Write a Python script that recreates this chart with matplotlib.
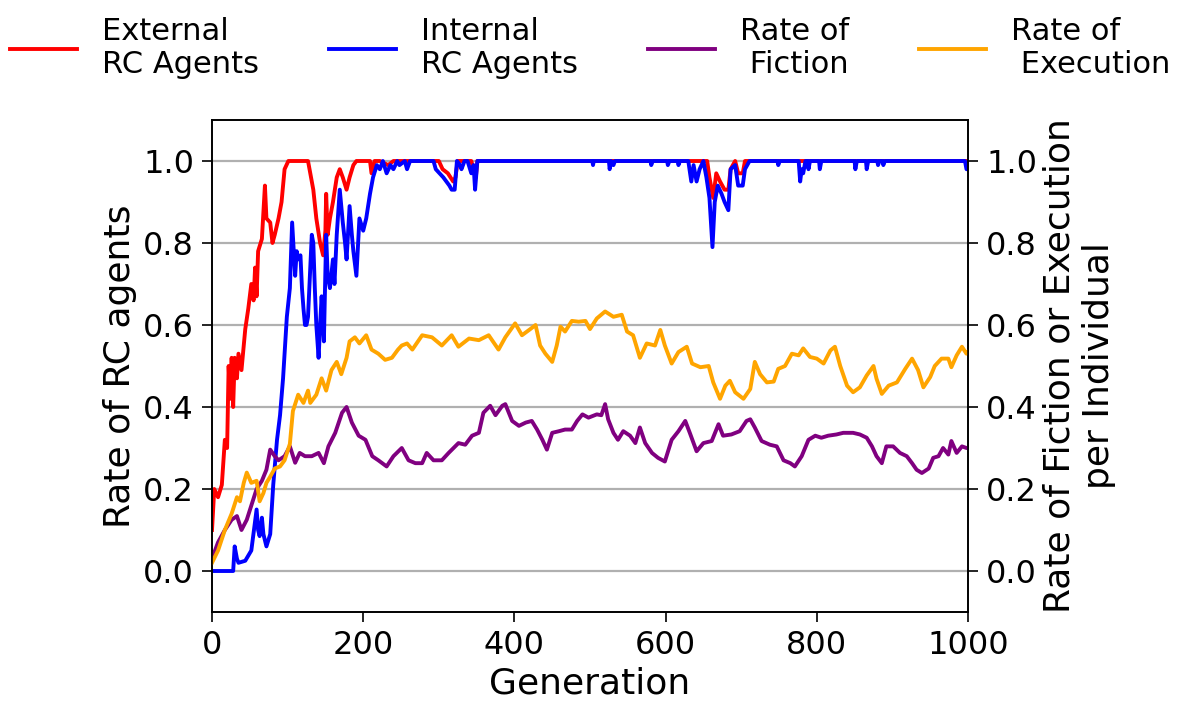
import matplotlib
matplotlib.use("Agg")
import matplotlib.pyplot as plt

# External RC agents (left axis)
ext_gen = [0, 3, 8, 13, 17, 20, 22, 24, 26, 28, 30, 33, 35, 39, 44, 48, 52, 55, 57, 59,
           61, 66, 70, 72, 77, 80, 83, 88, 92, 96, 101, 127, 134, 138, 143, 147, 150, 151,
           153, 156, 160, 165, 169, 173, 178, 182, 187, 191, 209, 211, 215, 222, 233, 240,
           300, 305, 312, 319, 322, 325, 343, 346, 349, 351, 655, 658, 663, 667, 672, 678,
           683, 686, 692, 696, 702, 705, 1000]
ext_val = [0.10, 0.20, 0.18, 0.21, 0.32, 0.30, 0.50, 0.42, 0.52, 0.40, 0.52, 0.47, 0.53,
           0.49, 0.59, 0.64, 0.70, 0.66, 0.74, 0.67, 0.78, 0.81, 0.94, 0.86, 0.85, 0.80,
           0.82, 0.86, 0.90, 0.98, 1.0, 1.0, 0.93, 0.86, 0.80, 0.77, 0.83, 0.92, 0.82, 0.86,
           0.90, 0.96, 0.98, 0.96, 0.93, 0.96, 0.99, 1.0, 1.0, 0.97, 1.0, 1.0, 0.99, 1.0,
           1.0, 0.98, 0.97, 0.95, 0.96, 1.0, 1.0, 0.98, 0.96, 1.0, 1.0, 0.96, 0.91, 0.97,
           0.95, 0.93, 0.93, 0.98, 1.0, 0.97, 0.97, 1.0, 1.0]

# Internal RC agents (left axis)
int_gen = [0, 28, 30, 33, 35, 44, 52, 57, 59, 61, 63, 66, 68, 72, 77, 81, 86, 90, 94, 99,
           103, 106, 110, 112, 114, 117, 119, 121, 123, 125, 127, 130, 132, 134, 136, 138,
           141, 143, 145, 148, 151, 153, 156, 160, 162, 165, 169, 173, 176, 178, 182, 185,
           187, 191, 195, 200, 204, 209, 213, 218, 222, 226, 231, 236, 240, 245, 248, 255,
           258, 262, 293, 296, 301, 306, 310, 314, 317, 321, 324, 328, 330, 334, 338, 343,
           346, 348, 351, 503, 504, 505, 525, 526, 528, 531, 533, 580, 581, 583, 602, 603,
           605, 616, 617, 619, 630, 634, 637, 639, 641, 645, 650, 654, 658, 662, 665, 669,
           674, 678, 683, 686, 692, 696, 702, 705, 711, 748, 749, 751, 776, 778, 780, 782,
           785, 788, 789, 791, 803, 804, 806, 850, 851, 853, 865, 866, 868, 880, 881, 883,
           887, 888, 890, 996, 998, 1000]
int_val = [0.0, 0.0, 0.06, 0.03, 0.02, 0.025, 0.05, 0.12, 0.15, 0.10, 0.085, 0.13, 0.09,
           0.06, 0.09, 0.21, 0.32, 0.38, 0.47, 0.62, 0.69, 0.85, 0.72, 0.78, 0.76, 0.77,
           0.69, 0.64, 0.60, 0.60, 0.62, 0.74, 0.82, 0.80, 0.69, 0.60, 0.52, 0.60, 0.67,
           0.56, 0.82, 0.72, 0.69, 0.76, 0.70, 0.82, 0.93, 0.85, 0.80, 0.76, 0.89, 0.82,
           0.78, 0.72, 0.86, 0.83, 0.86, 0.92, 0.96, 0.99, 0.98, 1.0, 0.97, 0.99, 0.98, 1.0,
           0.99, 1.0, 0.98, 1.0, 1.0, 0.98, 0.97, 0.96, 0.95, 0.94, 0.93, 0.93, 1.0, 0.99,
           0.98, 1.0, 1.0, 0.97, 0.99, 0.93, 1.0, 1.0, 0.99, 1.0, 1.0, 0.98, 1.0, 0.99, 1.0,
           1.0, 0.99, 1.0, 1.0, 0.99, 1.0, 1.0, 0.99, 1.0, 1.0, 0.95, 0.99, 0.97, 0.95,
           0.98, 1.0, 0.96, 0.91, 0.79, 0.90, 0.94, 0.92, 0.90, 0.88, 0.98, 0.99, 0.94,
           0.94, 0.98, 1.0, 1.0, 0.99, 1.0, 1.0, 0.95, 0.98, 0.97, 1.0, 1.0, 0.98, 1.0, 1.0,
           0.98, 1.0, 1.0, 0.98, 1.0, 1.0, 0.98, 1.0, 1.0, 0.99, 1.0, 1.0, 0.99, 1.0, 1.0,
           0.98, 0.98]

# Rate of execution per individual (right axis)
exe_gen = [0, 8, 17, 26, 33, 37, 42, 46, 52, 59, 63, 68, 72, 77, 83, 90, 96, 103, 107, 114,
           121, 127, 130, 138, 145, 151, 158, 165, 171, 178, 182, 189, 195, 204, 211, 220,
           229, 238, 246, 251, 258, 265, 278, 291, 304, 317, 326, 340, 353, 366, 379, 388,
           401, 410, 421, 428, 434, 441, 450, 456, 461, 467, 476, 485, 494, 500, 509, 520,
           531, 542, 549, 557, 566, 575, 586, 593, 599, 608, 617, 628, 635, 646, 657, 663,
           672, 679, 685, 692, 703, 712, 718, 725, 734, 743, 749, 758, 767, 776, 782, 791,
           800, 809, 818, 824, 831, 840, 848, 857, 866, 875, 879, 886, 895, 906, 917, 926,
           934, 941, 950, 956, 965, 974, 978, 985, 992, 998, 1000]
exe_val = [0.02, 0.05, 0.10, 0.14, 0.18, 0.17, 0.215, 0.24, 0.215, 0.22, 0.17, 0.19, 0.215,
           0.23, 0.25, 0.255, 0.27, 0.31, 0.39, 0.43, 0.41, 0.44, 0.41, 0.43, 0.47, 0.44,
           0.49, 0.51, 0.48, 0.52, 0.56, 0.57, 0.555, 0.575, 0.54, 0.53, 0.515, 0.52, 0.54,
           0.55, 0.555, 0.54, 0.575, 0.57, 0.55, 0.575, 0.547, 0.567, 0.563, 0.575, 0.54,
           0.57, 0.604, 0.575, 0.59, 0.60, 0.55, 0.53, 0.51, 0.55, 0.596, 0.584, 0.61,
           0.608, 0.61, 0.59, 0.616, 0.633, 0.62, 0.625, 0.584, 0.575, 0.52, 0.555, 0.55,
           0.588, 0.55, 0.506, 0.534, 0.547, 0.506, 0.497, 0.50, 0.46, 0.42, 0.452, 0.464,
           0.436, 0.42, 0.444, 0.51, 0.48, 0.46, 0.462, 0.493, 0.50, 0.53, 0.526, 0.543,
           0.522, 0.518, 0.506, 0.538, 0.547, 0.50, 0.452, 0.436, 0.448, 0.477, 0.50, 0.469,
           0.432, 0.452, 0.46, 0.493, 0.518, 0.49, 0.448, 0.473, 0.50, 0.518, 0.518, 0.497,
           0.526, 0.547, 0.53, 0.535]

# Rate of fiction per individual (right axis)
fic_gen = [0, 8, 17, 26, 33, 39, 46, 52, 59, 66, 72, 77, 83, 88, 96, 103, 110, 116, 123,
           132, 141, 148, 154, 163, 172, 178, 185, 194, 203, 212, 220, 231, 240, 251, 260,
           269, 278, 284, 293, 304, 313, 326, 335, 344, 353, 359, 368, 375, 384, 388, 397,
           406, 415, 423, 430, 437, 443, 450, 459, 467, 476, 483, 490, 498, 509, 515, 520,
           524, 531, 537, 544, 553, 560, 566, 573, 582, 590, 599, 608, 617, 626, 632, 641,
           650, 661, 670, 676, 687, 698, 707, 712, 718, 727, 738, 747, 756, 765, 771, 780,
           789, 798, 806, 815, 826, 835, 848, 857, 866, 873, 879, 886, 892, 901, 910, 919,
           926, 932, 939, 948, 954, 961, 967, 974, 978, 985, 992, 998, 1000]
fic_val = [0.03, 0.07, 0.10, 0.125, 0.134, 0.10, 0.125, 0.16, 0.20, 0.22, 0.247, 0.296,
           0.28, 0.27, 0.28, 0.304, 0.264, 0.288, 0.28, 0.28, 0.288, 0.263, 0.304, 0.337,
           0.386, 0.40, 0.362, 0.33, 0.32, 0.28, 0.27, 0.255, 0.28, 0.30, 0.27, 0.263,
           0.263, 0.288, 0.27, 0.27, 0.288, 0.312, 0.308, 0.33, 0.337, 0.386, 0.403, 0.38,
           0.403, 0.407, 0.366, 0.354, 0.362, 0.366, 0.345, 0.32, 0.296, 0.337, 0.341,
           0.345, 0.345, 0.366, 0.382, 0.374, 0.382, 0.38, 0.407, 0.37, 0.337, 0.32, 0.341,
           0.33, 0.312, 0.35, 0.312, 0.288, 0.276, 0.267, 0.32, 0.341, 0.366, 0.337, 0.292,
           0.312, 0.317, 0.358, 0.33, 0.333, 0.341, 0.366, 0.37, 0.35, 0.317, 0.308, 0.304,
           0.27, 0.263, 0.255, 0.28, 0.32, 0.33, 0.325, 0.33, 0.333, 0.337, 0.337, 0.333,
           0.325, 0.304, 0.28, 0.263, 0.304, 0.304, 0.288, 0.28, 0.263, 0.247, 0.239, 0.25,
           0.276, 0.28, 0.30, 0.284, 0.317, 0.288, 0.304, 0.30, 0.30]

y_ticks = [0.0, 0.2, 0.4, 0.6, 0.8, 1.0]
x_ticks = [0, 200, 400, 600, 800, 1000]

LW = 2.8
TICK_FS = 23
LABEL_FS = 26
LEGEND_FS = 22

fig = plt.figure(figsize=(11.77, 7.04), dpi=100)
ax = fig.add_axes([212 / 1177, 1 - 612 / 704, 756 / 1177, 492 / 704])

l_ext, = ax.plot(ext_gen, ext_val, color="red", lw=LW, label="External\nRC Agents")
l_int, = ax.plot(int_gen, int_val, color="blue", lw=LW, label="Internal\nRC Agents")
ax.set_xlim(0, 1000)
ax.set_ylim(-0.1, 1.1)
ax.set_xticks(x_ticks)
ax.set_yticks(y_ticks)
ax.grid(axis="y", color="#b0b0b0", lw=1.6)
ax.set_axisbelow(True)
ax.set_xlabel("Generation", fontsize=LABEL_FS)
ax.set_ylabel("Rate of RC agents", fontsize=LABEL_FS)

ax2 = ax.twinx()
l_fic, = ax2.plot(fic_gen, fic_val, color="purple", lw=LW, label="Rate of\n Fiction")
l_exe, = ax2.plot(exe_gen, exe_val, color="orange", lw=LW, label="Rate of\n Execution")
ax2.set_ylim(-0.1, 1.1)
ax2.set_yticks(y_ticks)
ax2.set_ylabel("Rate of Fiction or Execution\nper Individual", fontsize=LABEL_FS)

for a in (ax, ax2):
    a.tick_params(labelsize=TICK_FS, length=7, width=1.2, pad=6)
    for s in a.spines.values():
        s.set_linewidth(1.2)

ax.legend(handles=[l_ext, l_int, l_fic, l_exe], loc="lower center",
          bbox_to_anchor=(0.5, 1.027), ncol=4, frameon=False, fontsize=LEGEND_FS,
          handlelength=2.2, handletextpad=0.8, columnspacing=2.3)

fig.savefig("out.png", dpi=100)
